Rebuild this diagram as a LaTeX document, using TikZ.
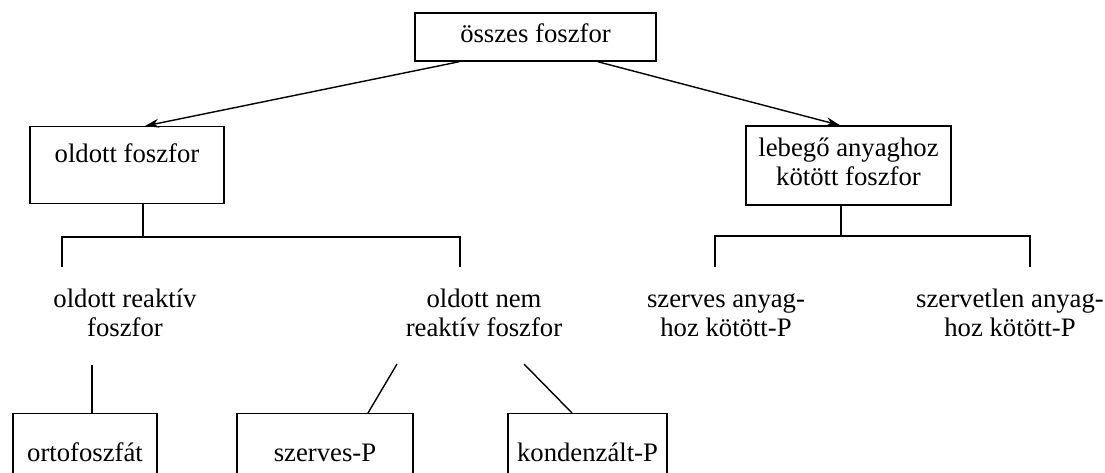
\documentclass[tikz,border=0pt]{standalone}
\usepackage{fontspec}
\setmainfont{Liberation Serif}
\usetikzlibrary{arrows.meta}
\begin{document}
\begin{tikzpicture}[x=1pt,y=-1pt,
  every node/.style={font=\fontsize{26.7}{29}\selectfont, inner sep=0pt},
  box/.style={draw, line width=1.4pt},
  conn/.style={line width=1.4pt},
  arr/.style={conn, -{Stealth[length=14pt,width=9pt]}},
  lbl/.style={align=center},
  bbox/.style={box, anchor=north, inner ysep=27.7pt, text height=20.3pt, text depth=20pt}]
\fill[white] (0,0) rectangle (1105,473);
\useasboundingbox (0,0) rectangle (1105,473);
\clip (0,0) rectangle (1105,473);

% boxes
\node[box, minimum width=241pt, minimum height=48pt] (top) at (535.5,37) {\strut összes foszfor};
\node[box, anchor=north, minimum width=194pt, inner ysep=15.7pt, text height=20.3pt, text depth=25.3pt] (oldott) at (127,126) {oldott foszfor};
\node[box, minimum width=205pt, minimum height=79pt, align=center] (lebego) at (848.5,165.5) {\strut lebegő anyaghoz\\\strut kötött foszfor};

% labels
\node[lbl] (orp) at (125,315.7) {\strut oldott reaktív\\\strut foszfor};
\node[lbl] (onrp) at (484,315.7) {\strut oldott nem\\\strut reaktív foszfor};
\node[lbl] (szap) at (726,315.7) {\strut szerves anyag-\\\strut hoz kötött-P};
\node[lbl] (szlap) at (1010,315.7) {\strut szervetlen anyag-\\\strut hoz kötött-P};

% bottom boxes
\node[bbox, minimum width=144pt] (orto) at (85,413) {ortofoszfát};
\node[bbox, minimum width=176pt] (szp) at (325,413) {szerves-P};
\node[bbox, minimum width=159pt] (kon) at (587.5,413) {kondenzált-P};

% arrows
\draw[arr] ([xshift=45pt]top.south west) -- ([xshift=18pt]oldott.north);
\draw[arr] ([xshift=-59pt]top.south east) -- ([xshift=-8.5pt]lebego.north);

% bracket under oldott foszfor
\coordinate (ob) at (143,237);
\coordinate (obl) at (62,267);
\coordinate (obr) at (460,267);
\draw[conn] (oldott.south -| ob) -- (ob);
\draw[conn] (obl) -- (obl |- ob) -- (obr |- ob) -- (obr);

% bracket under lebego
\coordinate (lb) at (841,236);
\coordinate (lbl) at (715,267);
\coordinate (lbr) at (1030,267);
\draw[conn] (lebego.south -| lb) -- (lb);
\draw[conn] (lbl) -- (lbl |- lb) -- (lbr |- lb) -- (lbr);

% lower connectors
\coordinate (o1) at (92,365);
\draw[conn] (o1) -- (o1 |- orto.north);
\coordinate (d1) at (397,364);
\draw[conn] (d1) -- ([xshift=43pt]szp.north);
\coordinate (d2) at (524,364);
\draw[conn] (d2) -- ([xshift=-15.5pt]kon.north);
\end{tikzpicture}
\end{document}
